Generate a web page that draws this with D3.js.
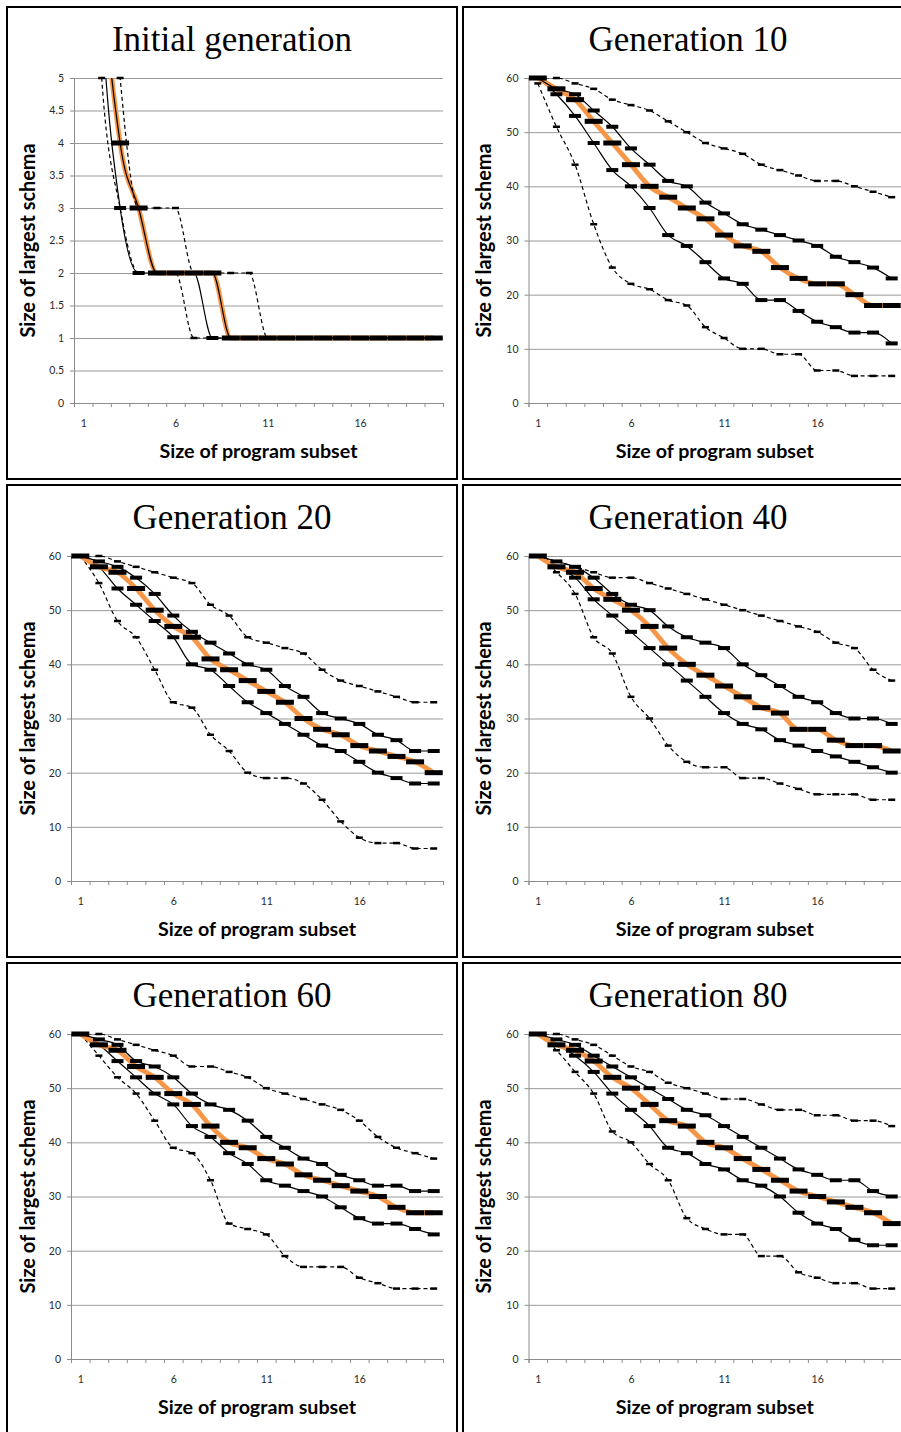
<!DOCTYPE html>
<html>
<head>
<meta charset="utf-8">
<script src="https://cdn.jsdelivr.net/npm/d3@7"></script>
<style>
  body { margin: 0; background: #fff; }
  svg { display: block; }
</style>
</head>
<body>
<svg id="chart" width="901" height="1432"></svg>
<script>
// Subset sizes on the x axis
const categories = [1, 2, 3, 4, 5, 6, 7, 8, 9, 10, 11, 12, 13, 14, 15, 16, 17, 18, 19, 20];
const xTickLabels = [1, 6, 11, 16];
const yTicksInitial = [0, 0.5, 1, 1.5, 2, 2.5, 3, 3.5, 4, 4.5, 5];
const yTicksLater = [0, 10, 20, 30, 40, 50, 60];

// Initial generation (values above 5 fall outside the axis range)
const initMin    = [12, 5, 3, 2, 2, 2, 1, 1, 1, 1, 1, 1, 1, 1, 1, 1, 1, 1, 1, 1];
const initQ1     = [13, 6, 3, 2, 2, 2, 2, 1, 1, 1, 1, 1, 1, 1, 1, 1, 1, 1, 1, 1];
const initMedian = [14, 7, 4, 3, 2, 2, 2, 2, 1, 1, 1, 1, 1, 1, 1, 1, 1, 1, 1, 1];
const initQ3     = [14, 7, 4, 3, 2, 2, 2, 2, 1, 1, 1, 1, 1, 1, 1, 1, 1, 1, 1, 1];
const initMax    = [16, 9, 5, 3, 3, 3, 2, 2, 2, 2, 1, 1, 1, 1, 1, 1, 1, 1, 1, 1];

// Generation 10
const gen10Min    = [59, 51, 44, 33, 25, 22, 21, 19, 18, 14, 12, 10, 10, 9, 9, 6, 6, 5, 5, 5];
const gen10Q1     = [60, 57, 53, 48, 43, 40, 36, 31, 29, 26, 23, 22, 19, 19, 17, 15, 14, 13, 13, 11];
const gen10Median = [60, 58, 56, 52, 48, 44, 40, 38, 36, 34, 31, 29, 28, 25, 23, 22, 22, 20, 18, 18];
const gen10Q3     = [60, 58, 57, 54, 51, 47, 44, 41, 40, 37, 35, 33, 32, 31, 30, 29, 27, 26, 25, 23];
const gen10Max    = [60, 60, 59, 58, 56, 55, 54, 52, 50, 48, 47, 46, 44, 43, 42, 41, 41, 40, 39, 38];

// Generation 20
const gen20Min    = [60, 55, 48, 45, 39, 33, 32, 27, 24, 20, 19, 19, 18, 15, 11, 8, 7, 7, 6, 6];
const gen20Q1     = [60, 58, 54, 51, 48, 45, 40, 39, 36, 33, 31, 29, 27, 25, 24, 22, 20, 19, 18, 18];
const gen20Median = [60, 58, 57, 54, 50, 47, 45, 41, 39, 37, 35, 33, 30, 28, 27, 25, 24, 23, 22, 20];
const gen20Q3     = [60, 59, 58, 56, 53, 49, 46, 44, 42, 40, 39, 36, 34, 31, 30, 29, 27, 26, 24, 24];
const gen20Max    = [60, 60, 59, 58, 57, 56, 55, 51, 49, 45, 44, 43, 42, 39, 37, 36, 35, 34, 33, 33];

// Generation 40
const gen40Min    = [60, 57, 53, 45, 42, 34, 30, 25, 22, 21, 21, 19, 19, 18, 17, 16, 16, 16, 15, 15];
const gen40Q1     = [60, 58, 56, 52, 49, 46, 43, 40, 37, 34, 31, 29, 28, 26, 25, 24, 23, 22, 21, 20];
const gen40Median = [60, 58, 57, 54, 52, 50, 47, 43, 40, 38, 36, 34, 32, 31, 28, 28, 26, 25, 25, 24];
const gen40Q3     = [60, 59, 58, 56, 53, 51, 50, 47, 45, 44, 43, 40, 38, 36, 34, 33, 31, 30, 30, 29];
const gen40Max    = [60, 59, 58, 57, 56, 56, 55, 54, 53, 52, 51, 50, 49, 48, 47, 46, 44, 43, 39, 37];

// Generation 60
const gen60Min    = [60, 56, 52, 49, 44, 39, 38, 33, 25, 24, 23, 19, 17, 17, 17, 15, 14, 13, 13, 13];
const gen60Q1     = [60, 58, 55, 52, 49, 47, 43, 41, 38, 36, 33, 32, 31, 30, 28, 26, 25, 25, 24, 23];
const gen60Median = [60, 58, 57, 54, 52, 49, 47, 43, 40, 39, 37, 36, 34, 33, 32, 31, 30, 28, 27, 27];
const gen60Q3     = [60, 59, 58, 55, 54, 52, 49, 47, 46, 44, 41, 39, 37, 36, 34, 33, 32, 32, 31, 31];
const gen60Max    = [60, 60, 59, 58, 57, 56, 54, 54, 53, 52, 50, 49, 48, 47, 46, 44, 41, 39, 38, 37];

// Generation 80
const gen80Min    = [60, 57, 53, 49, 42, 40, 36, 33, 26, 24, 23, 23, 19, 19, 16, 15, 14, 14, 13, 13];
const gen80Q1     = [60, 58, 56, 53, 49, 46, 43, 39, 38, 36, 35, 33, 32, 30, 27, 25, 24, 22, 21, 21];
const gen80Median = [60, 58, 57, 55, 52, 50, 47, 44, 43, 40, 39, 37, 35, 33, 31, 30, 29, 28, 27, 25];
const gen80Q3     = [60, 59, 58, 56, 54, 52, 50, 48, 46, 45, 43, 41, 39, 37, 35, 34, 33, 33, 31, 30];
const gen80Max    = [60, 60, 59, 58, 56, 54, 53, 51, 50, 49, 48, 48, 47, 46, 46, 45, 45, 44, 44, 43];

const panels = [
  { title: "Initial generation", col: 0, row: 0, yMax: 5, yTicks: yTicksInitial, left: 67,
    series: [initMin, initQ1, initMedian, initQ3, initMax] },
  { title: "Generation 10", col: 1, row: 0, yMax: 60, yTicks: yTicksLater, left: 65.5,
    series: [gen10Min, gen10Q1, gen10Median, gen10Q3, gen10Max] },
  { title: "Generation 20", col: 0, row: 1, yMax: 60, yTicks: yTicksLater, left: 64,
    series: [gen20Min, gen20Q1, gen20Median, gen20Q3, gen20Max] },
  { title: "Generation 40", col: 1, row: 1, yMax: 60, yTicks: yTicksLater, left: 65.5,
    series: [gen40Min, gen40Q1, gen40Median, gen40Q3, gen40Max] },
  { title: "Generation 60", col: 0, row: 2, yMax: 60, yTicks: yTicksLater, left: 64,
    series: [gen60Min, gen60Q1, gen60Median, gen60Q3, gen60Max] },
  { title: "Generation 80", col: 1, row: 2, yMax: 60, yTicks: yTicksLater, left: 65.5,
    series: [gen80Min, gen80Q1, gen80Median, gen80Q3, gen80Max] }
];

// Styles for min, lower quartile, median, upper quartile, max
const seriesStyles = [
  { stroke: "#000", width: 1.2, dash: "4,3", mw: 7,  mh: 2.5 },
  { stroke: "#000", width: 1.2, dash: null,  mw: 12, mh: 4 },
  { stroke: "#F79646", width: 4.8, dash: null, mw: 18, mh: 5 },
  { stroke: "#000", width: 1.2, dash: null,  mw: 12, mh: 4 },
  { stroke: "#000", width: 1.2, dash: "4,3", mw: 7,  mh: 2.5 }
];

const svg = d3.select("#chart");
const panelW = 450, panelH = 472;
const colX = [7, 463], rowY = [7, 485, 963];
const plotTop = 71, plotBottom = 396;
const axisColor = "#8c8c8c";
const sansFont = "Lato, 'Open Sans', sans-serif";

panels.forEach((p, pi) => {
  const g = svg.append("g")
    .attr("transform", `translate(${colX[p.col]},${rowY[p.row]})`);

  const left = p.left;
  const right = p.col === 0 ? 436 : left + 372.5;

  const x = d3.scaleLinear().domain([0.5, categories.length + 0.5]).range([left, right]);
  const y = d3.scaleLinear().domain([0, p.yMax]).range([plotBottom, plotTop]);

  // Gridlines
  g.append("g")
    .attr("transform", `translate(${left},0)`)
    .call(d3.axisLeft(y).tickValues(p.yTicks.filter(v => v > 0)).tickSize(-(right - left)).tickFormat(""))
    .call(s => s.select(".domain").remove())
    .call(s => s.selectAll("line").attr("stroke", "#9a9a9a").attr("stroke-width", 1));

  // Y axis
  g.append("g")
    .attr("transform", `translate(${left},0)`)
    .call(d3.axisLeft(y).tickValues(p.yTicks).tickSize(4).tickPadding(6)
      .tickFormat(d => String(d)))
    .call(s => s.select(".domain").attr("stroke", axisColor))
    .call(s => s.selectAll("line").attr("stroke", axisColor))
    .call(s => s.selectAll("text").attr("font-family", sansFont).attr("font-size", 10.5).attr("fill", "#2a2a2a"));

  // X axis: tick marks between categories
  g.append("g")
    .attr("transform", `translate(0,${plotBottom})`)
    .call(d3.axisBottom(x).tickValues(d3.range(0.5, categories.length + 1, 1)).tickSize(4).tickFormat(""))
    .call(s => s.select(".domain").attr("stroke", axisColor))
    .call(s => s.selectAll("line").attr("stroke", axisColor));

  // X tick labels
  g.append("g")
    .attr("transform", `translate(0,${plotBottom})`)
    .call(d3.axisBottom(x).tickValues(xTickLabels).tickSize(0).tickPadding(17).tickFormat(d => String(d)))
    .call(s => s.select(".domain").remove())
    .call(s => s.selectAll("text").attr("font-family", sansFont).attr("font-size", 10.5).attr("fill", "#2a2a2a"));

  // Clip lines to the plot area
  const clipId = `clip${pi}`;
  g.append("clipPath").attr("id", clipId)
    .append("rect").attr("x", left).attr("y", plotTop).attr("width", right - left).attr("height", plotBottom - plotTop);

  const line = d3.line()
    .x((d, i) => x(categories[i]))
    .y(d => y(d))
    .curve(d3.curveMonotoneX);

  const lines = g.append("g").attr("clip-path", `url(#${clipId})`);
  p.series.forEach((vals, si) => {
    const st = seriesStyles[si];
    lines.append("path")
      .datum(vals)
      .attr("d", line)
      .attr("fill", "none")
      .attr("stroke", st.stroke)
      .attr("stroke-width", st.width)
      .attr("stroke-dasharray", st.dash)
      .attr("stroke-linejoin", "round");
  });

  // Dash markers
  const markers = g.append("g");
  p.series.forEach((vals, si) => {
    const st = seriesStyles[si];
    markers.selectAll(null)
      .data(vals.map((v, i) => ({ c: categories[i], v })).filter(d => d.v <= p.yMax))
      .join("rect")
      .attr("x", d => x(d.c) - st.mw / 2)
      .attr("y", d => y(d.v) - st.mh / 2)
      .attr("width", st.mw)
      .attr("height", st.mh)
      .attr("fill", "#000");
  });

  // Panel title
  g.append("text")
    .attr("x", panelW / 2)
    .attr("y", 43.5)
    .attr("text-anchor", "middle")
    .attr("font-family", "'Liberation Serif', 'Times New Roman', serif")
    .attr("font-size", 35)
    .attr("fill", "#000")
    .text(p.title);

  // Axis titles (condensed slightly to the width of the original face)
  g.append("text")
    .attr("x", (left + right) / 2)
    .attr("y", 451)
    .attr("text-anchor", "middle")
    .attr("font-family", sansFont)
    .attr("font-weight", "bold")
    .attr("font-size", 19.5)
    .attr("textLength", 198)
    .attr("lengthAdjust", "spacingAndGlyphs")
    .attr("fill", "#000")
    .text("Size of program subset");

  g.append("text")
    .attr("transform", `translate(28,${(plotTop + plotBottom) / 2}) rotate(-90)`)
    .attr("text-anchor", "middle")
    .attr("font-family", sansFont)
    .attr("font-weight", "bold")
    .attr("font-size", 20)
    .attr("textLength", 194)
    .attr("lengthAdjust", "spacingAndGlyphs")
    .attr("fill", "#000")
    .text("Size of largest schema");

  // Panel frame
  g.append("rect")
    .attr("x", 0).attr("y", 0)
    .attr("width", panelW).attr("height", panelH)
    .attr("fill", "none")
    .attr("stroke", "#000")
    .attr("stroke-width", 2);
});
</script>
</body>
</html>
